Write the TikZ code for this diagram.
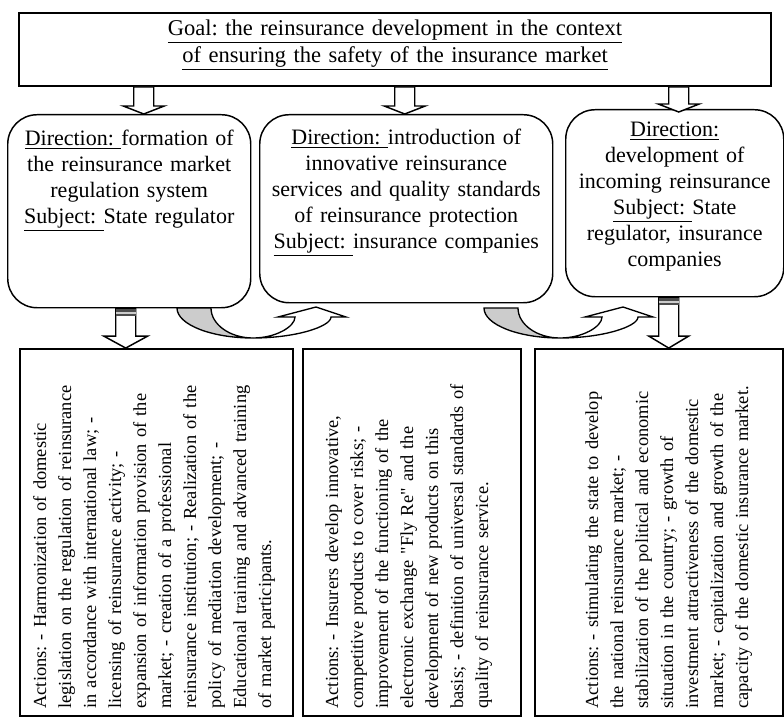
\documentclass[tikz,border=0pt]{standalone}
\usepackage{fontspec}
\setmainfont{Liberation Serif}[Ligatures=TeXOff]
\usetikzlibrary{calc}
\frenchspacing

\tikzstyle{goalbox} = [rectangle, draw = black, line width = 1.5pt, 
	inner xsep = 2pt, inner ysep = 0pt, text width = 560pt, align = center, 
	font = \fontsize{16.9}{20.25}\selectfont]
\tikzstyle{direction} = [rectangle, rounded corners = 22pt, draw = black, 
	line width = 1.1pt, inner xsep = 2pt, inner ysep = 0pt, align = center, 
	font = \fontsize{16.5}{19.5}\selectfont]
\tikzstyle{actions} = [rectangle, draw = black, line width = 1.5pt, rotate = 90, 
	inner xsep = 5.6pt, inner ysep = 0pt, text width = 264pt, align = left, 
	font = \fontsize{13.8}{18.75}\selectfont]
\tikzstyle{hollow} = [draw = black, fill = white, line width = 1.1pt]
\tikzstyle{backside} = [draw = black, fill = black!20, line width = 1pt]

\newcommand{\blockarrow}[4]{
	\draw [hollow] ($(#1)+(-10,0)$) -- ($(#2)+(-10,-#4)$) -- ($(#2)+(-#3,-#4)$) 
		-- (#2) -- ($(#2)+(#3,-#4)$) -- ($(#2)+(10,-#4)$) -- ($(#1)+(10,0)$) -- cycle;
}
\newcommand{\stripes}[1]{
	\fill [black!70] ($(#1)+(-10,1)$) rectangle ($(#1)+(10,8)$);
	\draw [black!20, line width = 0.8pt] ($(#1)+(-10,4.5)$) -- ($(#1)+(10,4.5)$);
}
\newcommand{\bentarrow}[1]{
	\begin{scope}[shift = {#1}]
	% back of the band
	\draw [backside] (0,0) -- (34,0) .. controls (34,16.5) and (53,30) .. (76,30) 
		.. controls (34,30) and (0,16.5) .. (0,0) -- cycle;
	% front of the band with its head
	\draw [hollow, line width = 1pt] (76,30) .. controls (99,30) and (118,18.5) .. (118,9) 
		-- (101,9) -- (139,-1) -- (169,9) -- (154,9) 
		.. controls (154,18.5) and (119,30) .. (76,30) -- cycle;
	\end{scope}
}

\begin{document}
\begin{tikzpicture}[x = 0.75pt, y = -0.75pt]
\useasboundingbox (0,0) rectangle (784,720);

% goal
\node (goal) [goalbox, anchor = north west, text height = 17.25pt, text depth = 37.5pt] 
	at (18,12) 
	{\underline{Goal: the reinsurance development in the context}\\
	\underline{of ensuring the safety of the insurance market}};

% directions
\node (dir1) [direction, anchor = north west, text width = 178.25pt, 
	text height = 23.25pt, text depth = 121.5pt] at (7,114)
	{\underline{Direction:~}formation of\\ the reinsurance market\\ 
	regulation system\\ \underline{Subject:~}State regulator};
\node (dir2) [direction, anchor = north west, text width = 215.75pt, 
	text height = 22.5pt, text depth = 118.5pt] at (259,114)
	{\underline{Direction:~}introduction of\\ innovative reinsurance\\ 
	services and quality standards\\ of reinsurance protection\\ 
	\underline{Subject:~}insurance companies};
\node (dir3) [direction, anchor = north west, text width = 159.5pt, 
	text height = 20.25pt, text depth = 120pt] at (565,109)
	{\underline{Direction:}\\ development of\\ incoming reinsurance\\ 
	\underline{Subject:~}State\\ regulator, insurance\\ companies};

% actions
\node (actA) [actions, anchor = north west, text height = 19.5pt, text depth = 185.25pt] 
	at (19,717)
	{Actions: - Harmonization of domestic\\
	legislation on the regulation of reinsurance\\
	in accordance with international law; -\\
	licensing of reinsurance activity; -\\
	expansion of information provision of the\\
	market; - creation of a professional\\
	reinsurance institution; - Realization of the\\
	policy of mediation development; -\\
	Educational training and advanced training\\
	of market participants.};
\node (actB) [actions, anchor = north west, text height = 26.25pt, text depth = 137.25pt] 
	at (302,717)
	{Actions: - Insurers develop innovative,\\
	competitive products to cover risks; -\\
	improvement of the functioning of the\\
	electronic exchange "Fly Re" and the\\
	development of new products on this\\
	basis; - definition of universal standards of\\
	quality of reinsurance service.};
\node (actC) [actions, anchor = north west, text height = 47.25pt, text depth = 138.75pt] 
	at (534,717)
	{Actions: - stimulating the state to develop\\
	the national reinsurance market; -\\
	stabilization of the political and economic\\
	situation in the country; - growth of\\
	investment attractiveness of the domestic\\
	market; - capitalization and growth of the\\
	capacity of the domestic insurance market.};

% arrows
\coordinate (in1) at ($(dir1.north)+(14.5,0)$);
\coordinate (in2) at ($(dir2.north)+(-1.5,0)$);
\coordinate (in3) at ($(dir3.north)+(4,3)$);
\blockarrow{goal.south -| in1}{in1}{20.5}{8}
\blockarrow{goal.south -| in2}{in2}{20.5}{8}
\blockarrow{goal.south -| in3}{in3}{20.5}{8}

\coordinate (outA) at ($(dir1.south)+(-3.5,0)$);
\coordinate (outC) at ($(dir3.south)+(-6,0)$);
\blockarrow{outA}{outA |- actA.east}{22}{12}
\stripes{outA}
\blockarrow{outC}{outC |- actC.east}{20}{12}
\stripes{outC}

\bentarrow{(177,308)}
\bentarrow{(484,308)}

\end{tikzpicture}
\end{document}
